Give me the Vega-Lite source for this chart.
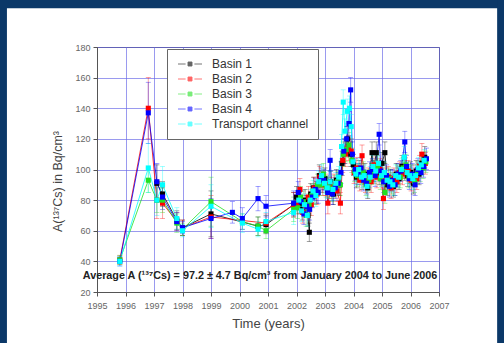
{
  "$schema": "https://vega.github.io/schema/vega-lite/v6.json",
  "width": 342,
  "height": 245,
  "autosize": {"type": "none"},
  "padding": {"left": 97, "top": 47, "right": 65, "bottom": 51},
  "background": "white",
  "config": {
    "font": "Liberation Sans",
    "view": {"stroke": "#555555", "strokeWidth": 1},
    "axis": {
      "labelFont": "Liberation Sans",
      "titleFont": "Liberation Sans",
      "labelFontSize": 9,
      "labelColor": "#666666",
      "titleColor": "#444444",
      "titleFontWeight": "normal",
      "domainColor": "#555555",
      "tickColor": "#555555",
      "tickSize": 4,
      "labelPadding": 4,
      "gridColor": "#6a6ae8",
      "gridOpacity": 0.85,
      "gridWidth": 0.8
    }
  },
  "datasets": {
    "meas": [
      {"s": "Basin 1", "t": 1997.1, "v": 91, "e": 12},
      {"s": "Basin 1", "t": 1997.3, "v": 84, "e": 8},
      {"s": "Basin 1", "t": 1997.8, "v": 67, "e": 6},
      {"s": "Basin 1", "t": 1998.0, "v": 62, "e": 5},
      {"s": "Basin 1", "t": 1999.0, "v": 71, "e": 15},
      {"s": "Basin 1", "t": 2000.65, "v": 63, "e": 6},
      {"s": "Basin 1", "t": 2000.93, "v": 64, "e": 6},
      {"s": "Basin 1", "t": 2001.9, "v": 77, "e": 8},
      {"s": "Basin 1", "t": 2002.0, "v": 82, "e": 7},
      {"s": "Basin 1", "t": 2002.1, "v": 78, "e": 7},
      {"s": "Basin 1", "t": 2002.2, "v": 74, "e": 7},
      {"s": "Basin 1", "t": 2002.3, "v": 80, "e": 7},
      {"s": "Basin 1", "t": 2002.4, "v": 70, "e": 7},
      {"s": "Basin 1", "t": 2002.45, "v": 59, "e": 6},
      {"s": "Basin 1", "t": 2002.5, "v": 84, "e": 7},
      {"s": "Basin 1", "t": 2002.6, "v": 88, "e": 7},
      {"s": "Basin 1", "t": 2002.7, "v": 85, "e": 7},
      {"s": "Basin 1", "t": 2002.8, "v": 96, "e": 7},
      {"s": "Basin 1", "t": 2002.9, "v": 92, "e": 7},
      {"s": "Basin 1", "t": 2003.0, "v": 94, "e": 7},
      {"s": "Basin 1", "t": 2003.1, "v": 86, "e": 7},
      {"s": "Basin 1", "t": 2003.2, "v": 92, "e": 7},
      {"s": "Basin 1", "t": 2003.3, "v": 84, "e": 7},
      {"s": "Basin 1", "t": 2003.4, "v": 93, "e": 7},
      {"s": "Basin 1", "t": 2003.5, "v": 90, "e": 7},
      {"s": "Basin 1", "t": 2003.6, "v": 104, "e": 8},
      {"s": "Basin 1", "t": 2003.7, "v": 112, "e": 8},
      {"s": "Basin 1", "t": 2003.8, "v": 120, "e": 8},
      {"s": "Basin 1", "t": 2003.9, "v": 110, "e": 8},
      {"s": "Basin 1", "t": 2004.0, "v": 103, "e": 7},
      {"s": "Basin 1", "t": 2004.1, "v": 95, "e": 7},
      {"s": "Basin 1", "t": 2004.2, "v": 99, "e": 7},
      {"s": "Basin 1", "t": 2004.3, "v": 94, "e": 7},
      {"s": "Basin 1", "t": 2004.4, "v": 97, "e": 7},
      {"s": "Basin 1", "t": 2004.5, "v": 88, "e": 7},
      {"s": "Basin 1", "t": 2004.65, "v": 111, "e": 7},
      {"s": "Basin 1", "t": 2004.7, "v": 99, "e": 7},
      {"s": "Basin 1", "t": 2004.8, "v": 111, "e": 7},
      {"s": "Basin 1", "t": 2004.9, "v": 97, "e": 7},
      {"s": "Basin 1", "t": 2005.0, "v": 104, "e": 7},
      {"s": "Basin 1", "t": 2005.1, "v": 111, "e": 7},
      {"s": "Basin 1", "t": 2005.2, "v": 90, "e": 7},
      {"s": "Basin 1", "t": 2005.3, "v": 93, "e": 7},
      {"s": "Basin 1", "t": 2005.4, "v": 89, "e": 7},
      {"s": "Basin 1", "t": 2005.5, "v": 97, "e": 7},
      {"s": "Basin 1", "t": 2005.6, "v": 94, "e": 7},
      {"s": "Basin 1", "t": 2005.7, "v": 102, "e": 7},
      {"s": "Basin 1", "t": 2005.8, "v": 100, "e": 7},
      {"s": "Basin 1", "t": 2005.9, "v": 96, "e": 7},
      {"s": "Basin 1", "t": 2006.0, "v": 98, "e": 7},
      {"s": "Basin 1", "t": 2006.1, "v": 91, "e": 7},
      {"s": "Basin 1", "t": 2006.2, "v": 99, "e": 7},
      {"s": "Basin 1", "t": 2006.3, "v": 97, "e": 7},
      {"s": "Basin 1", "t": 2006.4, "v": 104, "e": 7},
      {"s": "Basin 1", "t": 2006.5, "v": 108, "e": 7},

      {"s": "Basin 2", "t": 1995.8, "v": 41, "e": 3},
      {"s": "Basin 2", "t": 1996.8, "v": 140, "e": 20},
      {"s": "Basin 2", "t": 1997.1, "v": 80, "e": 12},
      {"s": "Basin 2", "t": 1997.3, "v": 78, "e": 10},
      {"s": "Basin 2", "t": 1997.8, "v": 66, "e": 6},
      {"s": "Basin 2", "t": 1998.0, "v": 62, "e": 5},
      {"s": "Basin 2", "t": 1999.0, "v": 69, "e": 14},
      {"s": "Basin 2", "t": 2000.93, "v": 65, "e": 6},
      {"s": "Basin 2", "t": 2001.9, "v": 77, "e": 8},
      {"s": "Basin 2", "t": 2002.02, "v": 78, "e": 7},
      {"s": "Basin 2", "t": 2002.12, "v": 87, "e": 7},
      {"s": "Basin 2", "t": 2002.22, "v": 72, "e": 7},
      {"s": "Basin 2", "t": 2002.32, "v": 76, "e": 7},
      {"s": "Basin 2", "t": 2002.42, "v": 82, "e": 7},
      {"s": "Basin 2", "t": 2002.52, "v": 77, "e": 7},
      {"s": "Basin 2", "t": 2002.62, "v": 88, "e": 7},
      {"s": "Basin 2", "t": 2002.72, "v": 84, "e": 7},
      {"s": "Basin 2", "t": 2002.82, "v": 95, "e": 7},
      {"s": "Basin 2", "t": 2002.92, "v": 90, "e": 7},
      {"s": "Basin 2", "t": 2003.02, "v": 90, "e": 7},
      {"s": "Basin 2", "t": 2003.1, "v": 78, "e": 7},
      {"s": "Basin 2", "t": 2003.22, "v": 88, "e": 7},
      {"s": "Basin 2", "t": 2003.32, "v": 90, "e": 7},
      {"s": "Basin 2", "t": 2003.42, "v": 86, "e": 7},
      {"s": "Basin 2", "t": 2003.54, "v": 78, "e": 7},
      {"s": "Basin 2", "t": 2003.62, "v": 106, "e": 8},
      {"s": "Basin 2", "t": 2003.72, "v": 110, "e": 8},
      {"s": "Basin 2", "t": 2003.82, "v": 114, "e": 8},
      {"s": "Basin 2", "t": 2003.92, "v": 112, "e": 8},
      {"s": "Basin 2", "t": 2004.02, "v": 98, "e": 7},
      {"s": "Basin 2", "t": 2004.12, "v": 101, "e": 7},
      {"s": "Basin 2", "t": 2004.22, "v": 93, "e": 7},
      {"s": "Basin 2", "t": 2004.3, "v": 109, "e": 7},
      {"s": "Basin 2", "t": 2004.42, "v": 92, "e": 7},
      {"s": "Basin 2", "t": 2004.52, "v": 94, "e": 7},
      {"s": "Basin 2", "t": 2004.62, "v": 92, "e": 7},
      {"s": "Basin 2", "t": 2004.72, "v": 103, "e": 7},
      {"s": "Basin 2", "t": 2004.82, "v": 95, "e": 7},
      {"s": "Basin 2", "t": 2004.92, "v": 100, "e": 7},
      {"s": "Basin 2", "t": 2005.05, "v": 81, "e": 7},
      {"s": "Basin 2", "t": 2005.12, "v": 94, "e": 7},
      {"s": "Basin 2", "t": 2005.22, "v": 95, "e": 7},
      {"s": "Basin 2", "t": 2005.32, "v": 88, "e": 7},
      {"s": "Basin 2", "t": 2005.42, "v": 94, "e": 7},
      {"s": "Basin 2", "t": 2005.52, "v": 92, "e": 7},
      {"s": "Basin 2", "t": 2005.62, "v": 98, "e": 7},
      {"s": "Basin 2", "t": 2005.72, "v": 97, "e": 7},
      {"s": "Basin 2", "t": 2005.82, "v": 101, "e": 7},
      {"s": "Basin 2", "t": 2005.92, "v": 99, "e": 7},
      {"s": "Basin 2", "t": 2006.02, "v": 93, "e": 7},
      {"s": "Basin 2", "t": 2006.12, "v": 96, "e": 7},
      {"s": "Basin 2", "t": 2006.22, "v": 94, "e": 7},
      {"s": "Basin 2", "t": 2006.32, "v": 102, "e": 7},
      {"s": "Basin 2", "t": 2006.4, "v": 110, "e": 7},
      {"s": "Basin 2", "t": 2006.52, "v": 104, "e": 7},

      {"s": "Basin 3", "t": 1995.8, "v": 41, "e": 3},
      {"s": "Basin 3", "t": 1996.8, "v": 93, "e": 8},
      {"s": "Basin 3", "t": 1997.1, "v": 80, "e": 8},
      {"s": "Basin 3", "t": 1997.3, "v": 80, "e": 8},
      {"s": "Basin 3", "t": 1997.8, "v": 65, "e": 6},
      {"s": "Basin 3", "t": 1998.0, "v": 61, "e": 4},
      {"s": "Basin 3", "t": 1999.0, "v": 79, "e": 16},
      {"s": "Basin 3", "t": 2000.1, "v": 66, "e": 5},
      {"s": "Basin 3", "t": 2000.65, "v": 63, "e": 6},
      {"s": "Basin 3", "t": 2000.93, "v": 60, "e": 5},
      {"s": "Basin 3", "t": 2001.9, "v": 74, "e": 8},
      {"s": "Basin 3", "t": 2002.04, "v": 75, "e": 7},
      {"s": "Basin 3", "t": 2002.14, "v": 82, "e": 7},
      {"s": "Basin 3", "t": 2002.24, "v": 79, "e": 7},
      {"s": "Basin 3", "t": 2002.34, "v": 70, "e": 7},
      {"s": "Basin 3", "t": 2002.44, "v": 77, "e": 7},
      {"s": "Basin 3", "t": 2002.54, "v": 83, "e": 7},
      {"s": "Basin 3", "t": 2002.64, "v": 84, "e": 7},
      {"s": "Basin 3", "t": 2002.74, "v": 90, "e": 7},
      {"s": "Basin 3", "t": 2002.84, "v": 90, "e": 7},
      {"s": "Basin 3", "t": 2002.94, "v": 97, "e": 7},
      {"s": "Basin 3", "t": 2003.04, "v": 89, "e": 7},
      {"s": "Basin 3", "t": 2003.14, "v": 88, "e": 7},
      {"s": "Basin 3", "t": 2003.24, "v": 86, "e": 7},
      {"s": "Basin 3", "t": 2003.34, "v": 89, "e": 7},
      {"s": "Basin 3", "t": 2003.44, "v": 92, "e": 7},
      {"s": "Basin 3", "t": 2003.54, "v": 90, "e": 7},
      {"s": "Basin 3", "t": 2003.64, "v": 110, "e": 8},
      {"s": "Basin 3", "t": 2003.74, "v": 113, "e": 8},
      {"s": "Basin 3", "t": 2003.84, "v": 116, "e": 8},
      {"s": "Basin 3", "t": 2003.94, "v": 106, "e": 8},
      {"s": "Basin 3", "t": 2004.04, "v": 99, "e": 7},
      {"s": "Basin 3", "t": 2004.14, "v": 96, "e": 7},
      {"s": "Basin 3", "t": 2004.24, "v": 97, "e": 7},
      {"s": "Basin 3", "t": 2004.34, "v": 98, "e": 7},
      {"s": "Basin 3", "t": 2004.44, "v": 90, "e": 7},
      {"s": "Basin 3", "t": 2004.54, "v": 93, "e": 7},
      {"s": "Basin 3", "t": 2004.64, "v": 97, "e": 7},
      {"s": "Basin 3", "t": 2004.74, "v": 98, "e": 7},
      {"s": "Basin 3", "t": 2004.84, "v": 102, "e": 7},
      {"s": "Basin 3", "t": 2004.94, "v": 94, "e": 7},
      {"s": "Basin 3", "t": 2005.04, "v": 97, "e": 7},
      {"s": "Basin 3", "t": 2005.1, "v": 85, "e": 7},
      {"s": "Basin 3", "t": 2005.24, "v": 94, "e": 7},
      {"s": "Basin 3", "t": 2005.34, "v": 91, "e": 7},
      {"s": "Basin 3", "t": 2005.44, "v": 90, "e": 7},
      {"s": "Basin 3", "t": 2005.54, "v": 96, "e": 7},
      {"s": "Basin 3", "t": 2005.64, "v": 95, "e": 7},
      {"s": "Basin 3", "t": 2005.74, "v": 101, "e": 7},
      {"s": "Basin 3", "t": 2005.84, "v": 103, "e": 7},
      {"s": "Basin 3", "t": 2005.94, "v": 95, "e": 7},
      {"s": "Basin 3", "t": 2006.04, "v": 96, "e": 7},
      {"s": "Basin 3", "t": 2006.14, "v": 92, "e": 7},
      {"s": "Basin 3", "t": 2006.24, "v": 98, "e": 7},
      {"s": "Basin 3", "t": 2006.34, "v": 99, "e": 7},
      {"s": "Basin 3", "t": 2006.44, "v": 101, "e": 7},
      {"s": "Basin 3", "t": 2006.54, "v": 105, "e": 7},

      {"s": "Basin 4", "t": 1995.8, "v": 40, "e": 3},
      {"s": "Basin 4", "t": 1996.8, "v": 137, "e": 20},
      {"s": "Basin 4", "t": 1997.1, "v": 92, "e": 12},
      {"s": "Basin 4", "t": 1997.3, "v": 82, "e": 8},
      {"s": "Basin 4", "t": 1997.8, "v": 66, "e": 6},
      {"s": "Basin 4", "t": 1998.0, "v": 62, "e": 4},
      {"s": "Basin 4", "t": 1999.0, "v": 68, "e": 13},
      {"s": "Basin 4", "t": 1999.75, "v": 72, "e": 7},
      {"s": "Basin 4", "t": 2000.1, "v": 68, "e": 7},
      {"s": "Basin 4", "t": 2000.65, "v": 81, "e": 8},
      {"s": "Basin 4", "t": 2000.93, "v": 76, "e": 7},
      {"s": "Basin 4", "t": 2001.9, "v": 78, "e": 8},
      {"s": "Basin 4", "t": 2002.06, "v": 85, "e": 7},
      {"s": "Basin 4", "t": 2002.16, "v": 79, "e": 7},
      {"s": "Basin 4", "t": 2002.26, "v": 71, "e": 7},
      {"s": "Basin 4", "t": 2002.36, "v": 76, "e": 7},
      {"s": "Basin 4", "t": 2002.46, "v": 74, "e": 7},
      {"s": "Basin 4", "t": 2002.56, "v": 82, "e": 7},
      {"s": "Basin 4", "t": 2002.66, "v": 87, "e": 7},
      {"s": "Basin 4", "t": 2002.76, "v": 85, "e": 7},
      {"s": "Basin 4", "t": 2002.86, "v": 94, "e": 7},
      {"s": "Basin 4", "t": 2002.96, "v": 93, "e": 7},
      {"s": "Basin 4", "t": 2003.1, "v": 85, "e": 7},
      {"s": "Basin 4", "t": 2003.18, "v": 106, "e": 7},
      {"s": "Basin 4", "t": 2003.26, "v": 84, "e": 7},
      {"s": "Basin 4", "t": 2003.36, "v": 88, "e": 7},
      {"s": "Basin 4", "t": 2003.46, "v": 91, "e": 7},
      {"s": "Basin 4", "t": 2003.56, "v": 98, "e": 7},
      {"s": "Basin 4", "t": 2003.66, "v": 112, "e": 8},
      {"s": "Basin 4", "t": 2003.76, "v": 120, "e": 8},
      {"s": "Basin 4", "t": 2003.84, "v": 130, "e": 8},
      {"s": "Basin 4", "t": 2003.9, "v": 152, "e": 8},
      {"s": "Basin 4", "t": 2003.96, "v": 110, "e": 8},
      {"s": "Basin 4", "t": 2004.06, "v": 100, "e": 7},
      {"s": "Basin 4", "t": 2004.16, "v": 97, "e": 7},
      {"s": "Basin 4", "t": 2004.26, "v": 101, "e": 7},
      {"s": "Basin 4", "t": 2004.36, "v": 93, "e": 7},
      {"s": "Basin 4", "t": 2004.46, "v": 91, "e": 7},
      {"s": "Basin 4", "t": 2004.56, "v": 98, "e": 7},
      {"s": "Basin 4", "t": 2004.66, "v": 100, "e": 7},
      {"s": "Basin 4", "t": 2004.76, "v": 96, "e": 7},
      {"s": "Basin 4", "t": 2004.9, "v": 123, "e": 7},
      {"s": "Basin 4", "t": 2004.96, "v": 99, "e": 7},
      {"s": "Basin 4", "t": 2005.06, "v": 92, "e": 7},
      {"s": "Basin 4", "t": 2005.16, "v": 96, "e": 7},
      {"s": "Basin 4", "t": 2005.26, "v": 89, "e": 7},
      {"s": "Basin 4", "t": 2005.36, "v": 93, "e": 7},
      {"s": "Basin 4", "t": 2005.46, "v": 90, "e": 7},
      {"s": "Basin 4", "t": 2005.56, "v": 97, "e": 7},
      {"s": "Basin 4", "t": 2005.66, "v": 99, "e": 7},
      {"s": "Basin 4", "t": 2005.8, "v": 118, "e": 7},
      {"s": "Basin 4", "t": 2005.86, "v": 102, "e": 7},
      {"s": "Basin 4", "t": 2005.96, "v": 94, "e": 7},
      {"s": "Basin 4", "t": 2006.06, "v": 97, "e": 7},
      {"s": "Basin 4", "t": 2006.16, "v": 90, "e": 7},
      {"s": "Basin 4", "t": 2006.26, "v": 100, "e": 7},
      {"s": "Basin 4", "t": 2006.36, "v": 98, "e": 7},
      {"s": "Basin 4", "t": 2006.46, "v": 102, "e": 7},
      {"s": "Basin 4", "t": 2006.56, "v": 107, "e": 7},

      {"s": "Transport channel", "t": 1995.8, "v": 40, "e": 3},
      {"s": "Transport channel", "t": 1996.8, "v": 101, "e": 16},
      {"s": "Transport channel", "t": 1997.1, "v": 80, "e": 10},
      {"s": "Transport channel", "t": 1997.3, "v": 90, "e": 12},
      {"s": "Transport channel", "t": 1997.8, "v": 68, "e": 7},
      {"s": "Transport channel", "t": 1998.0, "v": 60, "e": 4},
      {"s": "Transport channel", "t": 1999.0, "v": 76, "e": 14},
      {"s": "Transport channel", "t": 2000.1, "v": 65, "e": 6},
      {"s": "Transport channel", "t": 2000.65, "v": 61, "e": 5},
      {"s": "Transport channel", "t": 2000.93, "v": 66, "e": 6},
      {"s": "Transport channel", "t": 2001.9, "v": 72, "e": 8},
      {"s": "Transport channel", "t": 2002.08, "v": 80, "e": 7},
      {"s": "Transport channel", "t": 2002.18, "v": 73, "e": 7},
      {"s": "Transport channel", "t": 2002.28, "v": 77, "e": 7},
      {"s": "Transport channel", "t": 2002.38, "v": 70, "e": 7},
      {"s": "Transport channel", "t": 2002.48, "v": 80, "e": 7},
      {"s": "Transport channel", "t": 2002.58, "v": 86, "e": 7},
      {"s": "Transport channel", "t": 2002.68, "v": 83, "e": 7},
      {"s": "Transport channel", "t": 2002.78, "v": 92, "e": 7},
      {"s": "Transport channel", "t": 2002.88, "v": 96, "e": 7},
      {"s": "Transport channel", "t": 2002.98, "v": 91, "e": 7},
      {"s": "Transport channel", "t": 2003.08, "v": 88, "e": 7},
      {"s": "Transport channel", "t": 2003.18, "v": 92, "e": 7},
      {"s": "Transport channel", "t": 2003.28, "v": 87, "e": 7},
      {"s": "Transport channel", "t": 2003.38, "v": 91, "e": 7},
      {"s": "Transport channel", "t": 2003.48, "v": 95, "e": 7},
      {"s": "Transport channel", "t": 2003.58, "v": 115, "e": 8},
      {"s": "Transport channel", "t": 2003.64, "v": 144, "e": 8},
      {"s": "Transport channel", "t": 2003.7, "v": 125, "e": 8},
      {"s": "Transport channel", "t": 2003.78, "v": 138, "e": 8},
      {"s": "Transport channel", "t": 2003.86, "v": 140, "e": 8},
      {"s": "Transport channel", "t": 2003.92, "v": 128, "e": 8},
      {"s": "Transport channel", "t": 2003.98, "v": 105, "e": 8},
      {"s": "Transport channel", "t": 2004.08, "v": 97, "e": 7},
      {"s": "Transport channel", "t": 2004.18, "v": 100, "e": 7},
      {"s": "Transport channel", "t": 2004.28, "v": 95, "e": 7},
      {"s": "Transport channel", "t": 2004.38, "v": 96, "e": 7},
      {"s": "Transport channel", "t": 2004.48, "v": 89, "e": 7},
      {"s": "Transport channel", "t": 2004.58, "v": 95, "e": 7},
      {"s": "Transport channel", "t": 2004.68, "v": 102, "e": 7},
      {"s": "Transport channel", "t": 2004.78, "v": 99, "e": 7},
      {"s": "Transport channel", "t": 2004.88, "v": 104, "e": 7},
      {"s": "Transport channel", "t": 2004.98, "v": 96, "e": 7},
      {"s": "Transport channel", "t": 2005.08, "v": 98, "e": 7},
      {"s": "Transport channel", "t": 2005.18, "v": 93, "e": 7},
      {"s": "Transport channel", "t": 2005.28, "v": 92, "e": 7},
      {"s": "Transport channel", "t": 2005.38, "v": 90, "e": 7},
      {"s": "Transport channel", "t": 2005.48, "v": 96, "e": 7},
      {"s": "Transport channel", "t": 2005.58, "v": 95, "e": 7},
      {"s": "Transport channel", "t": 2005.68, "v": 100, "e": 7},
      {"s": "Transport channel", "t": 2005.78, "v": 108, "e": 7},
      {"s": "Transport channel", "t": 2005.88, "v": 98, "e": 7},
      {"s": "Transport channel", "t": 2005.98, "v": 96, "e": 7},
      {"s": "Transport channel", "t": 2006.08, "v": 94, "e": 7},
      {"s": "Transport channel", "t": 2006.18, "v": 96, "e": 7},
      {"s": "Transport channel", "t": 2006.28, "v": 101, "e": 7},
      {"s": "Transport channel", "t": 2006.38, "v": 103, "e": 7},
      {"s": "Transport channel", "t": 2006.48, "v": 106, "e": 7}
    ],
    "note": [
      {"label": "Average A (¹³⁷Cs) = 97.2 ± 4.7 Bq/cm³ from January 2004 to June 2006"}
    ],
    "one": [{}]
  },
  "encoding": {
    "x": {
      "type": "quantitative",
      "scale": {"domain": [1995, 2007], "nice": false, "zero": false},
      "axis": {
        "values": [1995, 1996, 1997, 1998, 1999, 2000, 2001, 2002, 2003, 2004, 2005, 2006, 2007],
        "format": "d", "grid": true, "labelPadding": 5, "labelOverlap": false, "labelFlush": false,
        "title": "Time (years)", "titleFontSize": 13, "titlePadding": 7
      }
    },
    "y": {
      "type": "quantitative",
      "scale": {"domain": [20, 180], "nice": false, "zero": false},
      "axis": {
        "values": [20, 40, 60, 80, 100, 120, 140, 160, 180],
        "grid": true, "labelPadding": 3, "labelOverlap": false, "labelFlush": false,
        "title": "A(¹³⁷Cs) in Bq/cm³", "titleFontSize": 12.5,
        "titleAngle": -90, "titleX": -40, "titleY": 134,
        "titleAlign": "center", "titleBaseline": "middle"
      }
    }
  },
  "layer": [
    {
      "data": {"name": "meas"},
      "mark": {"type": "line", "strokeWidth": 0.8},
      "encoding": {
        "x": {"field": "t", "type": "quantitative"},
        "y": {"field": "v", "type": "quantitative"},
        "color": {
          "field": "s", "type": "nominal",
          "scale": {
            "domain": ["Basin 1", "Basin 2", "Basin 3", "Basin 4", "Transport channel"],
            "range": ["#000000", "#ff0000", "#22e022", "#0000ff", "#00ffff"]
          },
          "legend": {
            "title": null,
            "orient": "none", "legendX": 70, "legendY": 2,
            "padding": 9, "rowPadding": 3,
            "labelFontSize": 12, "labelColor": "#333333", "labelFont": "Liberation Sans",
            "labelOffset": 24,
            "symbolType": "M-1,0H0.9M3.1,0H5M1.5,-0.5H2.5V0.5H1.5Z",
            "symbolSize": 64, "symbolStrokeWidth": 0.9,
            "strokeColor": "#666666", "fillColor": "white"
          }
        }
      }
    },
    {
      "data": {"name": "meas"},
      "mark": {"type": "errorbar", "ticks": true, "thickness": 0.6, "opacity": 0.6},
      "encoding": {
        "x": {"field": "t", "type": "quantitative"},
        "y": {"field": "v", "type": "quantitative", "title": "A(¹³⁷Cs) in Bq/cm³"},
        "yError": {"field": "e"},
        "color": {"field": "s", "type": "nominal"}
      }
    },
    {
      "data": {"name": "meas"},
      "mark": {"type": "point", "shape": "square", "filled": true, "size": 26, "opacity": 1},
      "encoding": {
        "x": {"field": "t", "type": "quantitative"},
        "y": {"field": "v", "type": "quantitative"},
        "color": {"field": "s", "type": "nominal"}
      }
    },
    {
      "data": {"name": "note"},
      "mark": {"type": "text", "fontSize": 10.8, "fontWeight": "bold", "font": "Liberation Sans", "color": "#222222", "align": "center", "baseline": "middle"},
      "encoding": {
        "x": {"datum": 2000.72, "type": "quantitative"},
        "y": {"datum": 30.4, "type": "quantitative"},
        "text": {"field": "label"}
      }
    },
    {
      "data": {"name": "one"},
      "mark": {"type": "rect", "color": "#0b3868"},
      "encoding": {
        "x": {"datum": 1990, "type": "quantitative"},
        "x2": {"datum": 1991.84},
        "y": {"datum": 240, "type": "quantitative"},
        "y2": {"datum": -60}
      }
    },
    {
      "data": {"name": "one"},
      "mark": {"type": "rect", "color": "#0b3868"},
      "encoding": {
        "x": {"datum": 1990, "type": "quantitative"},
        "x2": {"datum": 2012},
        "y": {"datum": 240, "type": "quantitative"},
        "y2": {"datum": 205.3}
      }
    },
    {
      "data": {"name": "one"},
      "mark": {"type": "rect", "color": "#0b3868"},
      "encoding": {
        "x": {"datum": 2009.04, "type": "quantitative"},
        "x2": {"datum": 2012},
        "y": {"datum": 240, "type": "quantitative"},
        "y2": {"datum": -60}
      }
    }
  ]
}
